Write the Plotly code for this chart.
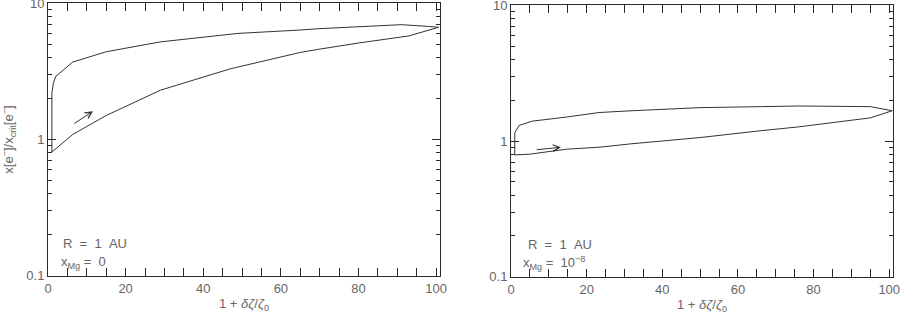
import math
import plotly.graph_objects as go

# ---------------- data ----------------
# Left panel (x_Mg = 0)
left_lower_x = [1, 6.4, 15, 29, 47, 65, 70, 80, 93, 100.6]
left_lower_y = [0.81, 1.09, 1.5, 2.3, 3.3, 4.35, 4.6, 5.1, 5.75, 6.65]
left_upper_x = [1, 1, 1.4, 2, 3, 6.4, 15, 24, 29, 49, 65, 70, 91, 98, 100.6]
left_upper_y = [0.81, 2.2, 2.6, 2.9, 3.1, 3.7, 4.4, 4.9, 5.2, 6.0, 6.35, 6.5, 6.95, 6.75, 6.65]

# Right panel (x_Mg = 1e-8)
right_lower_x = [1, 5, 14.6, 23.3, 32, 50, 66, 76, 95, 100.8]
right_lower_y = [0.79, 0.8, 0.87, 0.9, 0.955, 1.06, 1.19, 1.27, 1.48, 1.67]
right_upper_x = [1, 1, 1.5, 2.1, 5.6, 14.6, 23.3, 32, 50, 66, 76, 95, 100.8]
right_upper_y = [0.79, 1.15, 1.23, 1.3, 1.4, 1.5, 1.62, 1.67, 1.76, 1.79, 1.81, 1.79, 1.67]

# arrows (tail -> head)
left_arrow = dict(x0=6.4, y0=1.29, x1=11.6, y1=1.61)
right_arrow = dict(x0=6.4, y0=0.86, x1=13.2, y1=0.90)

x_tick_vals = [0, 20, 40, 60, 80, 100]
y_tick_vals = [0.1, 1, 10]
y_tick_text = ["0.1", "1", "10"]
y_minor_vals = [0.2, 0.3, 0.4, 0.5, 0.6, 0.7, 0.8, 0.9, 2, 3, 4, 5, 6, 7, 8, 9]

# ---------------- figure ----------------
LINE = "#2a2a2a"
TXT = "#666666"
FONT = "Liberation Sans"
YRANGE = [-1.001, 1.001]

fig = go.Figure()

for xl, yl, xu, yu, ax, minor_ax in [
    (left_lower_x, left_lower_y, left_upper_x, left_upper_y, ("x", "y"), "y3"),
    (right_lower_x, right_lower_y, right_upper_x, right_upper_y, ("x2", "y2"), "y4"),
]:
    fig.add_trace(go.Scatter(
        x=xl + xu[::-1], y=yl + yu[::-1], mode="lines",
        line=dict(color="#333333", width=1), xaxis=ax[0], yaxis=ax[1],
        showlegend=False, hoverinfo="skip"))
    # invisible copy so the minor-tick overlay axis gets drawn
    fig.add_trace(go.Scatter(
        x=xl[:1], y=yl[:1], mode="markers", marker=dict(opacity=0),
        xaxis=ax[0], yaxis=minor_ax, showlegend=False, hoverinfo="skip"))

common_x = dict(
    range=[0, 101], tickvals=x_tick_vals, ticks="inside", ticklen=8,
    tickcolor=LINE, tickwidth=1, showline=True, linecolor=LINE, linewidth=1,
    mirror="allticks", showgrid=False, zeroline=False, automargin=False,
    tickfont=dict(family=FONT, size=13, color=TXT),
    minor=dict(dtick=5, ticks="inside", ticklen=4, tickcolor=LINE, tickwidth=1, showgrid=False),
    title=dict(text="1 + <i>δζ</i>/<i>ζ</i><sub>0</sub>", font=dict(family=FONT, size=13, color=TXT), standoff=4),
)
common_y = dict(
    type="log", range=YRANGE, tickvals=y_tick_vals, ticktext=y_tick_text,
    ticks="inside", ticklen=8, tickcolor=LINE, tickwidth=1, showline=True, linecolor=LINE,
    linewidth=1, mirror="allticks", showgrid=False, zeroline=False, automargin=False,
    ticklabeloverflow="allow",
    tickfont=dict(family=FONT, size=13, color=TXT),
)
minor_y = dict(
    type="log", range=YRANGE, tickvals=y_minor_vals, ticks="inside", ticklen=4,
    tickcolor=LINE, tickwidth=1, showticklabels=False, showline=False, mirror="allticks",
    showgrid=False, zeroline=False, automargin=False,
)

ydom_l = [(317 - 276) / 317, (317 - 3) / 317]
ydom_r = [(317 - 277) / 317, (317 - 5) / 317]

fig.update_layout(
    width=904, height=317,
    margin=dict(l=0, r=0, t=0, b=0, autoexpand=False),
    paper_bgcolor="white", plot_bgcolor="white",
    xaxis=dict(domain=[48 / 904, 440 / 904], anchor="y", **common_x),
    yaxis=dict(domain=ydom_l, anchor="x",
               title=dict(text="x[e<sup>−</sup>]/x<sub>crit</sub>[e<sup>−</sup>]",
                          font=dict(family=FONT, size=13, color=TXT), standoff=14),
               **common_y),
    xaxis2=dict(domain=[511 / 904, 893 / 904], anchor="y2", **common_x),
    yaxis2=dict(domain=ydom_r, anchor="x2", **common_y),
    yaxis3=dict(domain=ydom_l, anchor="x", overlaying="y", **minor_y),
    yaxis4=dict(domain=ydom_r, anchor="x2", overlaying="y2", **minor_y),
)

nb = "\u00a0"
ann_font = dict(family=FONT, size=13, color=TXT)
for xr, yr, line2, xr1, xr2 in [("x", "y", f"x<sub>Mg</sub>{nb}={nb}{nb}0", 0.036, 0.03),
                                ("x2", "y2", f"x<sub>Mg</sub>{nb}={nb}{nb}10<sup>−8</sup>", 0.042, 0.029)]:
    fig.add_annotation(xref=f"{xr} domain", yref=f"{yr} domain", x=xr1, y=0.12,
                       text=f"R{nb}{nb}={nb}{nb}1{nb}{nb}AU", showarrow=False,
                       xanchor="left", yanchor="middle", font=ann_font, borderpad=0)
    fig.add_annotation(xref=f"{xr} domain", yref=f"{yr} domain", x=xr2, y=0.05,
                       text=line2, showarrow=False, xanchor="left", yanchor="middle",
                       font=ann_font, borderpad=0)

for a, xr, yr in [(left_arrow, "x", "y"), (right_arrow, "x2", "y2")]:
    fig.add_annotation(xref=xr, yref=yr, axref=xr, ayref=yr,
                       x=a["x1"], y=math.log10(a["y1"]),
                       ax=a["x0"], ay=math.log10(a["y0"]),
                       text="", showarrow=True, arrowhead=5, arrowsize=1.3,
                       arrowwidth=1, arrowcolor="#333333")

fig.write_html(
    "out.html",
    config={"displayModeBar": False},
    post_script="document.body.style.margin='0';document.body.style.overflow='hidden';",
)
